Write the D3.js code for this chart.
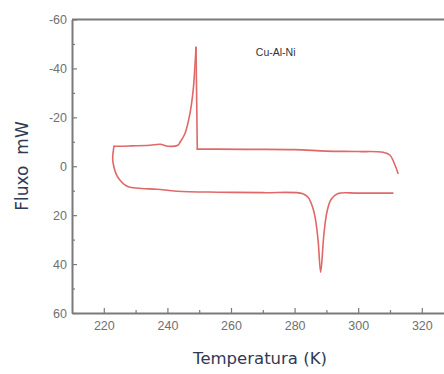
<!DOCTYPE html>
<html>
<head>
<meta charset="utf-8">
<script src="https://cdn.jsdelivr.net/npm/d3@7/dist/d3.min.js"></script>
<style>
  html, body { margin: 0; padding: 0; background: #fff; overflow: hidden; }
  svg { display: block; }
</style>
</head>
<body>
<svg id="chart" width="444" height="374"></svg>
<script>
// Temperature (K) and heat flow (mW), in drawing order
const coolingT    = [310.9, 300, 293.5, 291.5, 290.2, 289.2, 288.2, 287.4, 286.6, 285.6, 284.3, 282.6, 270, 256.5, 243, 236.7, 232, 228.2, 226.5, 225.1, 224, 223.2, 222.8, 223.2];
const coolingFlux = [11.0, 11.0, 11.2, 13.5, 18.5, 28.0, 43.3, 30.5, 22.0, 16.5, 12.8, 11.2, 10.8, 10.6, 10.2, 9.4, 9.1, 8.6, 7.5, 5.7, 3.5, 0.4, -3, -8.2];
const heatingT    = [223.2, 228, 234.5, 237.7, 240.2, 243.3, 244.0, 245.5, 247.1, 248.1, 248.7, 249.0, 249.4, 250.5, 255, 265, 280, 290, 300, 307.8, 310, 311.6, 312.5];
const heatingFlux = [-8.2, -8.3, -8.6, -9.0, -8.2, -8.6, -9.9, -13.3, -21.6, -31.0, -41.9, -48.6, -7.0, -7.0, -7.0, -6.9, -6.8, -6.2, -6.0, -5.7, -4.5, -0.4, 2.9];

const xMajor = [220, 240, 260, 280, 300, 320];
const xMinor = [230, 250, 270, 290, 310];
const yMajor = [-60, -40, -20, 0, 20, 40, 60];
const yMinor = [-50, -30, -10, 10, 30, 50];

const xTitle = "Temperatura (K)";
const yTitle = "Fluxo  mW";
const sampleLabel = "Cu-Al-Ni";

const svg = d3.select("#chart");
const x = d3.scaleLinear().domain([210, 330]).range([72, 453.6]);
const y = d3.scaleLinear().domain([-60, 60]).range([19.5, 313]);

const axisColor = "#7a7a7a";
const tickFont = "Liberation Sans, Arial, sans-serif";

svg.append("line")
  .attr("x1", x(210)).attr("x2", 444)
  .attr("y1", y(-60)).attr("y2", y(-60))
  .attr("stroke", axisColor).attr("stroke-width", 2);

svg.append("g").attr("transform", `translate(0,${y(60)})`)
  .call(d3.axisBottom(x).tickValues(xMajor).tickSizeInner(-5).tickSizeOuter(0).tickPadding(8));
svg.append("g").attr("transform", `translate(0,${y(60)})`)
  .call(d3.axisBottom(x).tickValues(xMinor).tickSizeInner(-3).tickSizeOuter(0).tickFormat(""))
  .select(".domain").remove();

svg.append("g").attr("transform", `translate(${x(210)},0)`)
  .call(d3.axisLeft(y).tickValues(yMajor).tickSizeInner(-5).tickSizeOuter(0).tickPadding(5)
    .tickFormat(d => d < 0 ? "-" + Math.abs(d) : String(d)));
svg.append("g").attr("transform", `translate(${x(210)},0)`)
  .call(d3.axisLeft(y).tickValues(yMinor).tickSizeInner(-3).tickSizeOuter(0).tickFormat(""))
  .select(".domain").remove();

svg.selectAll(".domain").attr("stroke", axisColor).attr("stroke-width", 2);
svg.selectAll(".tick line").attr("stroke", axisColor).attr("stroke-width", 1.2);
svg.selectAll(".tick text")
  .attr("fill", "#707070")
  .style("font-family", tickFont)
  .style("font-size", "12.5px");

const smooth = d3.line().x(d => x(d[0])).y(d => y(d[1])).curve(d3.curveCatmullRom.alpha(0.5));
const straight = d3.line().x(d => x(d[0])).y(d => y(d[1]));
const cooling = coolingT.map((t, i) => [t, coolingFlux[i]]);
const heating = heatingT.map((t, i) => [t, heatingFlux[i]]);

// split the heating branch at the sharp drop after the exothermic peak
const peakIdx = heatingFlux.indexOf(d3.min(heatingFlux));
const pieces = [
  [smooth, cooling],
  [smooth, heating.slice(0, peakIdx + 1)],
  [straight, heating.slice(peakIdx, peakIdx + 2)],
  [smooth, heating.slice(peakIdx + 1)]
];
pieces.forEach(([gen, seg]) => {
  svg.append("path")
    .attr("d", gen(seg))
    .attr("fill", "none").attr("stroke", "#e06868").attr("stroke-width", 1.6)
    .attr("stroke-linejoin", "round").attr("stroke-linecap", "round");
});

svg.append("text")
  .attr("x", x(267.8)).attr("y", y(-46.5)).attr("dy", "0.35em")
  .attr("fill", "#333")
  .style("font-family", tickFont).style("font-size", "10.5px")
  .text(sampleLabel);

svg.append("text")
  .attr("x", 260).attr("y", 364)
  .attr("text-anchor", "middle")
  .attr("fill", "#2f3a52")
  .style("font-family", "DejaVu Sans, sans-serif").style("font-size", "16.5px")
  .text(xTitle);

svg.append("text")
  .attr("transform", "translate(28,166) rotate(-90)")
  .attr("text-anchor", "middle")
  .attr("fill", "#2f3a52")
  .style("font-family", "DejaVu Sans, sans-serif").style("font-size", "17px")
  .style("white-space", "pre")
  .text(yTitle);
</script>
</body>
</html>
